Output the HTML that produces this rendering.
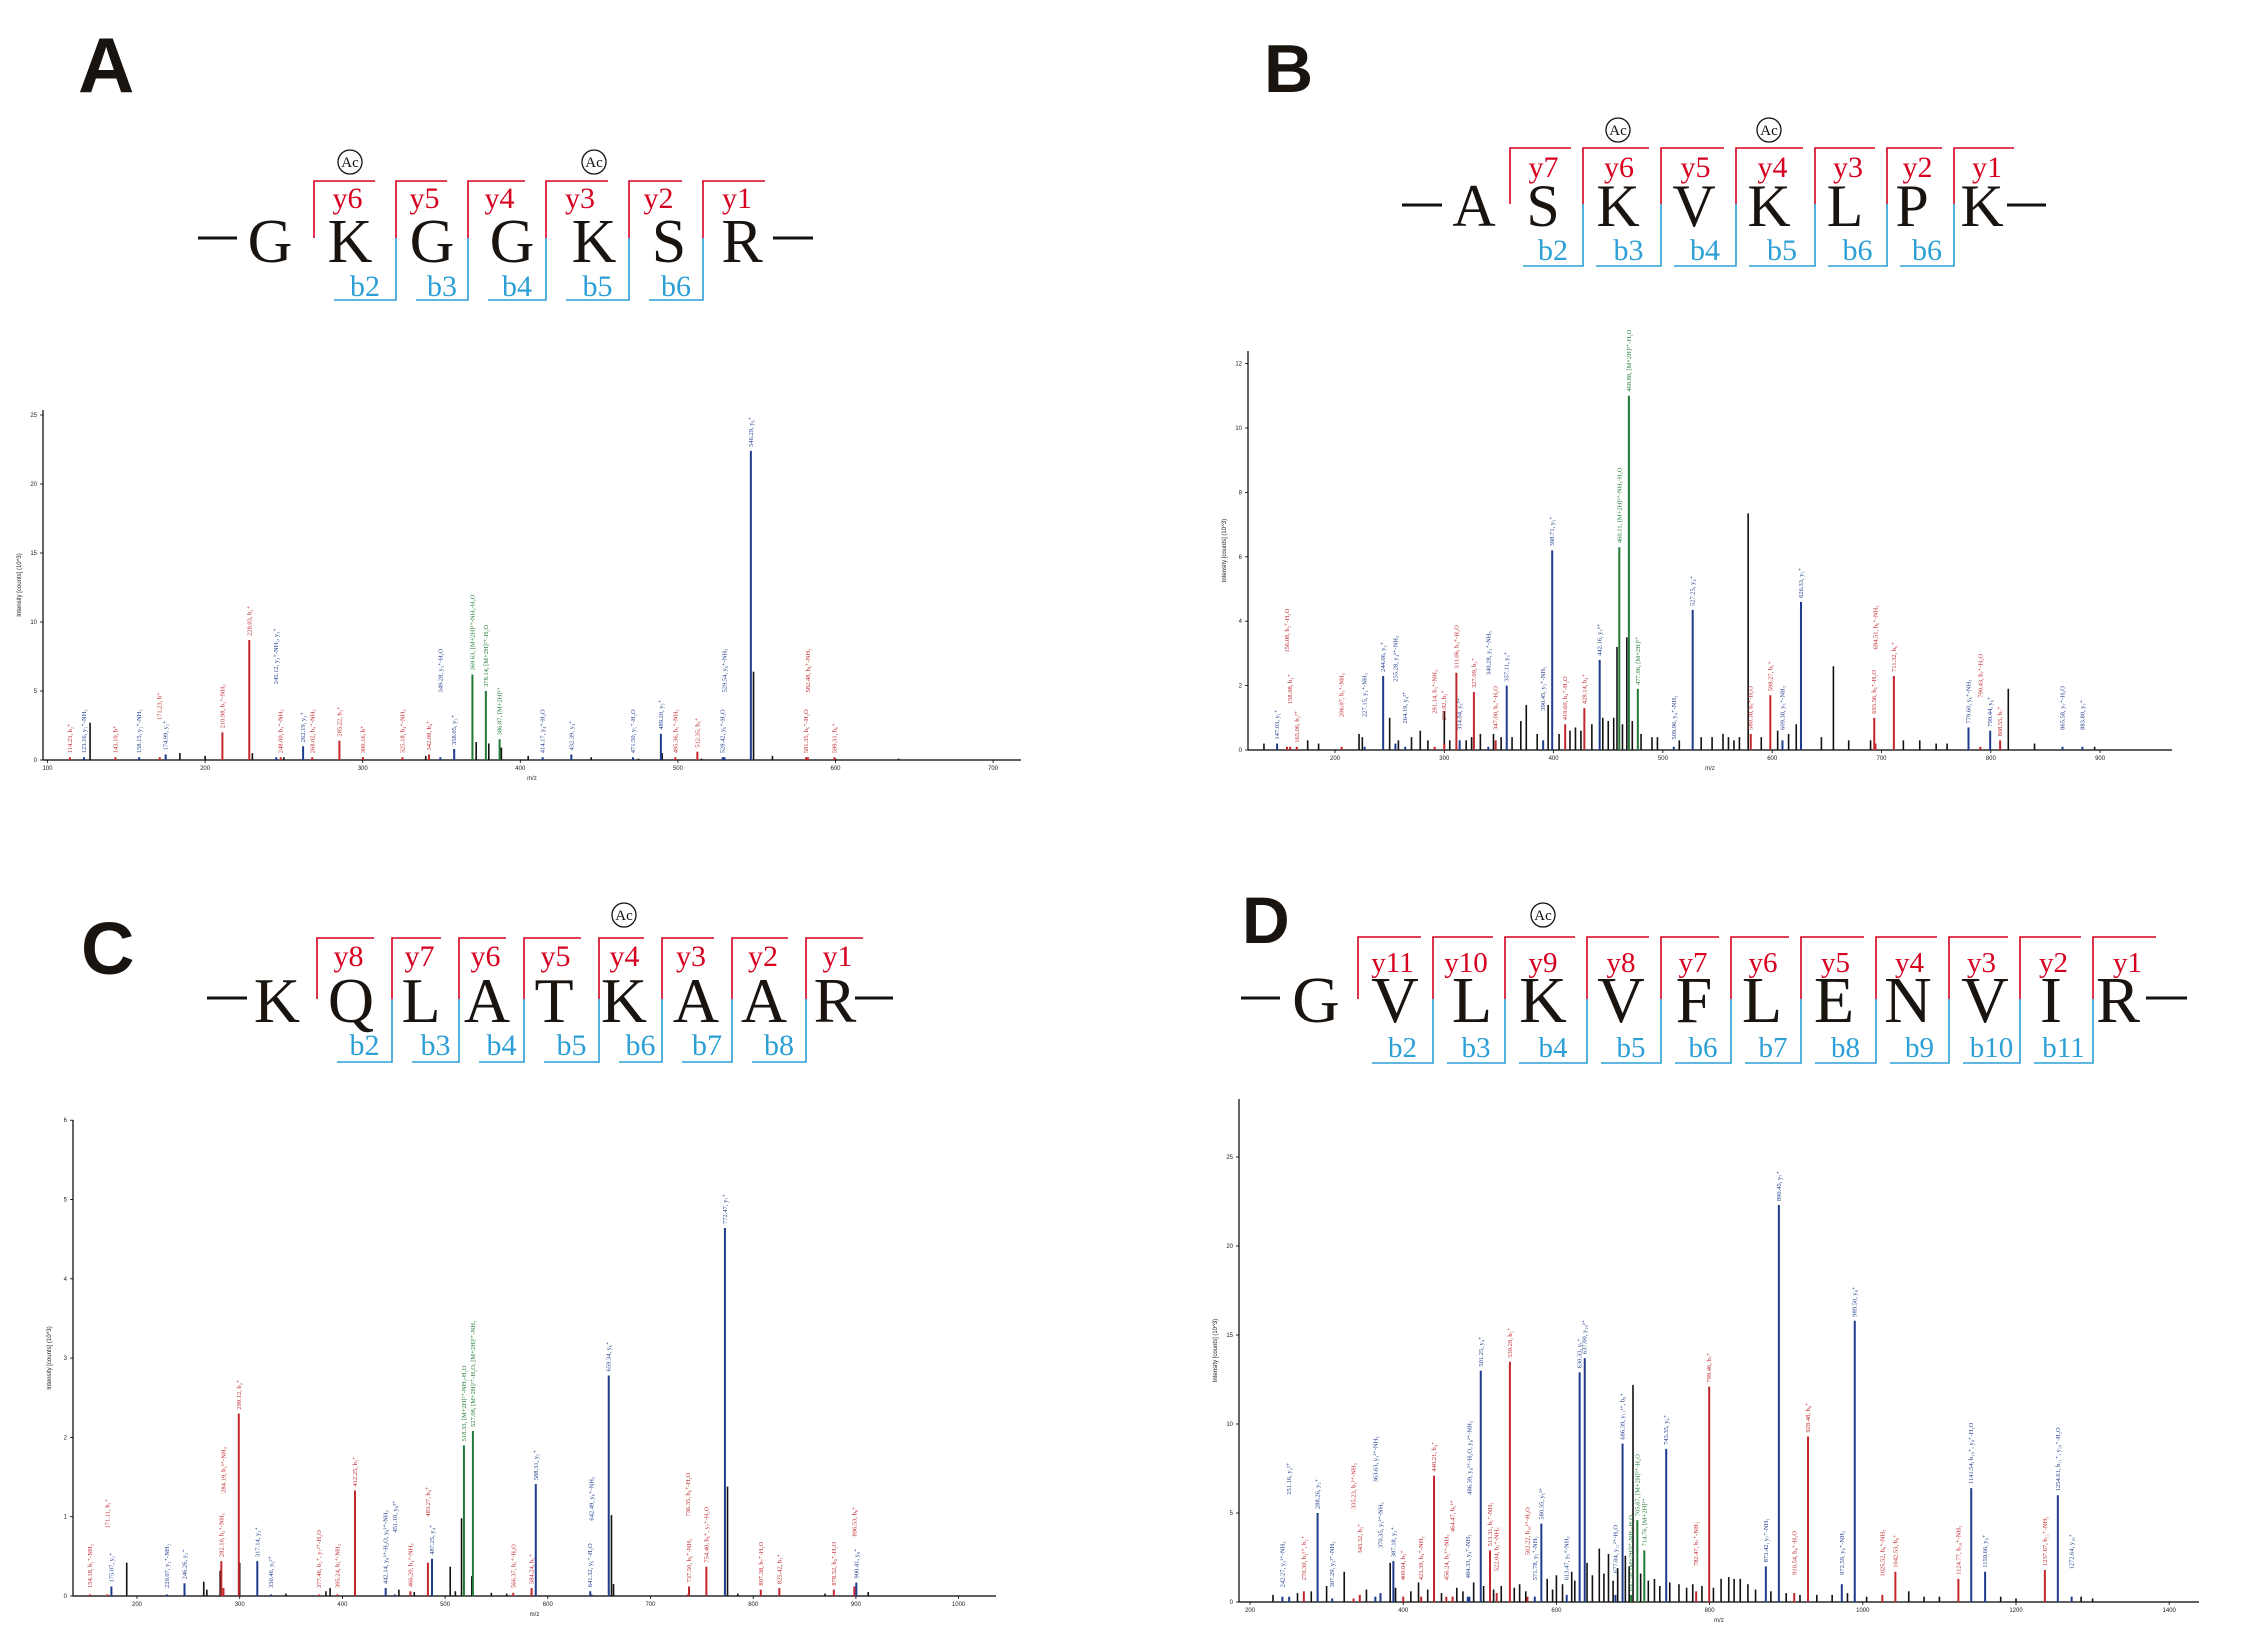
<!DOCTYPE html>
<html><head><meta charset="utf-8"><title>MS/MS spectra of acetylated peptides</title>
<style>
html,body{margin:0;padding:0;background:#fff;}
svg{display:block;}
text{font-family:"Liberation Serif",serif;}
.pl{font-family:"Liberation Sans",sans-serif;font-weight:bold;}
.tick{font-family:"Liberation Sans",sans-serif;font-size:6px;fill:#222;}
</style></head>
<body>
<svg id="fig" xmlns="http://www.w3.org/2000/svg" width="2244" height="1625" viewBox="0 0 2244 1625"></svg>
<script>
// ---------- DATA (per panel) ----------
// Panel A: GKGGKSR
const aMz    = [114.23,123.16,143.10,158.15,171.23,174.99,210.98,228.03,245.12,248.00,262.19,268.02,285.22,300.16,325.18,342.08,349.28,358.05,369.63,378.14,386.87,414.17,432.39,471.50,489.20,498.36,512.35,528.42,529.54,546.29,581.35,582.48,599.31];
const aInt   = [0.2,0.2,0.2,0.2,0.2,0.4,2.0,8.7,0.2,0.2,1.0,0.2,1.4,0.2,0.2,0.4,0.2,0.8,6.2,5.0,1.5,0.2,0.4,0.2,1.9,0.2,0.6,0.2,0.2,22.4,0.2,0.2,0.2];
const aType  = ["b","y","b","y","b","y","b","b","y","b","y","b","b","b","b","b","y","y","m","m","m","y","y","y","y","b","b","y","y","y","b","b","b"];
const aLab   = ["114.23, b₂⁺","123.16, y₁⁺-NH₃","143.10, b⁺","158.15, y₁⁺-NH₃","171.23, b⁺","174.99, y₁⁺","210.98, b₂⁺-NH₃","228.03, b₂⁺","245.12, y₂⁺-NH₃, y₂⁺","248.00, b₃⁺-NH₃","262.19, y₂⁺","268.02, b₃⁺-NH₃","285.22, b₃⁺","300.16, b⁺","325.18, b₄⁺-NH₃","342.08, b₄⁺","349.28, y₃⁺-H₂O","358.05, y₃⁺","369.63, [M+2H]²⁺-NH₃-H₂O","378.14, [M+2H]²⁺-H₂O","386.87, [M+2H]²⁺","414.17, y₄⁺-H₂O","432.39, y₄⁺","471.50, y₅⁺-H₂O","489.20, y₅⁺","495.36, b₅⁺-NH₃","512.35, b₅⁺","528.42, y₆⁺-H₂O","529.54, y₆⁺-NH₃","546.29, y₆⁺","581.35, b₆⁺-H₂O","582.48, b₆⁺-NH₃","599.31, b₆⁺"];
const aLabAt = [0,0,0,0,2.6,0,0,0,5.2,0,0,0,0,0,0,0,4.6,0,0,0,0,0,0,0,0,0,0,0,4.6,0,0,4.6,0];
const aNoiseMz  = [127,184,200,230,250,300,340,372,380,388,405,445,475,490,515,548,560,600,640];
const aNoiseInt = [2.7,0.5,0.3,0.5,0.2,0.2,0.3,1.3,1.2,0.9,0.3,0.2,0.1,0.5,0.1,6.4,0.3,0.1,0.1];
const aXTicks = [100,200,300,400,500,600,700];
const aYTicks = [0,5,10,15,20,25];

// Panel B: ASKVKLPK
const bMz    = [147.03,156.08,158.98,165.06,206.07,227.15,244.06,255.28,264.19,291.14,299.92,311.06,314.04,327.09,340.28,347.00,357.11,390.45,398.71,410.60,428.14,442.16,460.11,468.88,477.06,509.96,527.25,580.38,598.27,609.38,626.33,693.36,694.51,711.32,779.60,790.43,799.44,808.55,865.58,883.80];
const bInt   = [0.2,0.1,0.1,0.1,0.1,0.1,2.3,0.2,0.1,0.1,0.2,2.4,0.3,1.8,0.1,0.3,2.0,0.3,6.2,0.8,1.3,2.8,6.3,11.0,1.9,0.1,4.35,0.5,1.7,0.3,4.6,1.0,0.2,2.3,0.7,0.1,0.6,0.3,0.1,0.1];
const bType  = ["y","b","b","b","b","y","y","y","y","b","b","b","y","b","y","b","y","y","y","b","b","y","m","m","m","y","y","b","b","y","y","b","b","b","y","b","y","b","y","y"];
const bLab   = ["147.03, y₁⁺","156.08, b₂⁺-H₂O","158.98, b₂⁺","165.06, b₂²⁺","206.07, b₃⁺-NH₃","227.15, y₂⁺-NH₃","244.06, y₂⁺","255.28, y₄²⁺-NH₃","264.19, y₄²⁺","291.14, b₃⁺-NH₃","299.92, b₃⁺","311.06, b₃⁺-H₂O","314.04, y₅²⁺","327.09, b₃⁺","340.28, y₃⁺-NH₃","347.00, b₃⁺-H₂O","357.11, y₃⁺","390.45, y₃⁺-NH₃","398.71, y₃⁺","410.60, b₄⁺-H₂O","428.14, b₄⁺","442.16, y₇²⁺","460.11, [M+2H]²⁺-NH₃-H₂O","468.88, [M+2H]²⁺-H₂O","477.06, [M+2H]²⁺","509.96, y₄⁺-NH₃","527.25, y₄⁺","580.38, b₅⁺-H₂O","598.27, b₅⁺","609.38, y₅⁺-NH₃","626.33, y₅⁺","693.36, b₆⁺-H₂O","694.51, b₆⁺-NH₃","711.32, b₆⁺","779.60, y₆⁺-NH₃","790.43, b₇⁺-H₂O","799.44, y₆⁺","808.55, b₇⁺","865.58, y₇⁺-H₂O","883.80, y₇⁺"];
const bLabAt = [0,2.9,1.3,0,0.9,0.9,0,2.0,0.7,1.0,0.8,0,0.5,0,2.2,0.5,0,1.1,0,0.6,0,0,0,0,0,0.2,0,0.5,0,0.5,0,0,3.0,0,0,1.5,0,0,0.5,0.5];
const bNoiseMz  = [135,175,185,222,225,250,258,270,278,285,300,305,320,325,333,345,352,362,370,375,385,395,405,415,420,425,435,445,450,455,458,463,467,472,480,490,495,515,535,545,555,560,565,570,578,590,605,615,622,645,656,670,690,720,735,750,760,816,840,895];
const bNoiseInt = [0.2,0.3,0.2,0.5,0.4,1.0,0.3,0.4,0.6,0.3,1.2,0.3,0.3,0.4,0.5,0.5,0.4,0.4,0.9,1.4,0.5,1.4,0.5,0.6,0.7,0.6,0.8,1.0,0.9,1.0,3.2,0.8,3.5,0.9,0.5,0.4,0.4,0.3,0.4,0.4,0.5,0.4,0.3,0.4,7.35,0.4,0.6,0.5,0.8,0.4,2.6,0.3,0.3,0.3,0.3,0.2,0.2,1.9,0.2,0.1];
const bXTicks = [200,300,400,500,600,700,800,900];
const bYTicks = [0,2,4,6,8,10,12];

// Panel C: KQLATKAAR
const cMz    = [154.18,171.11,175.07,229.07,246.26,282.10,284.19,299.12,317.14,330.46,377.46,395.24,412.25,442.14,451.10,466.20,483.27,487.25,518.33,527.08,566.37,584.24,588.31,641.32,642.49,659.34,736.35,737.50,754.40,772.47,807.38,825.42,878.52,898.53,900.41];
const cInt   = [0.02,0.02,0.12,0.02,0.16,0.44,0.1,2.3,0.44,0.02,0.02,0.02,1.33,0.1,0.02,0.06,0.42,0.47,1.9,2.08,0.04,0.1,1.41,0.06,0.02,2.78,0.02,0.12,0.37,4.64,0.08,0.1,0.08,0.12,0.17];
const cType  = ["b","b","y","y","y","b","b","b","y","y","b","b","b","y","y","b","b","y","m","m","b","b","y","y","y","y","b","b","b","y","b","b","b","b","y"];
const cLab   = ["154.18, b₁⁺-NH₃","171.11, b₁⁺","175.07, y₁⁺","229.07, y₂⁺-NH₃","246.26, y₂⁺","282.10, b₂⁺-NH₃","284.19, b₂²⁺-NH₃","299.12, b₂⁺","317.14, y₃⁺","330.46, y₆²⁺","377.46, b₃⁺, y₇²⁺-H₂O","395.24, b₃⁺-NH₃","412.25, b₃⁺","442.14, y₈²⁺-H₂O, y₈²⁺-NH₃","451.10, y₈²⁺","466.20, b₄⁺-NH₃","483.27, b₄⁺","487.25, y₄⁺","518.33, [M+2H]²⁺-NH₃-H₂O","527.08, [M+2H]²⁺-H₂O, [M+2H]²⁺-NH₃","566.37, b₅⁺-H₂O","584.24, b₅⁺","588.31, y₅⁺","641.32, y₆⁺-H₂O","642.49, y₆⁺-NH₃","659.34, y₆⁺","736.35, b₆⁺-H₂O","737.50, b₆⁺-NH₃","754.40, b₆⁺, y₇⁺-H₂O","772.47, y₇⁺","807.38, b₇⁺-H₂O","825.42, b₇⁺","878.52, b₈⁺-H₂O","896.53, b₈⁺","900.41, y₈⁺"];
const cLabAt = [0.05,0.8,0,0.05,0,0,1.25,0,0,0.05,0.05,0.05,0,0.1,0.75,0.05,0.95,0,0,0,0.05,0.05,0,0.05,0.9,0,0.95,0.05,0,0,0.05,0.05,0.05,0.7,0];
const cNoiseMz  = [190,265,268,281,300,345,384,388,455,470,505,510,516,526,545,560,584,662,664,775,785,870,912];
const cNoiseInt = [0.42,0.18,0.08,0.32,0.42,0.03,0.06,0.1,0.08,0.05,0.37,0.06,0.98,0.25,0.04,0.03,0.04,1.02,0.15,1.38,0.03,0.03,0.05];
const cXTicks = [200,300,400,500,600,700,800,900,1000];
const cYTicks = [0,1,2,3,4,5,6];

// Panel D: GVLKVFLENVIR
const dMz    = [242.27,251.16,270.30,288.26,307.29,335.23,343.32,363.63,370.35,387.18,400.04,423.39,440.21,456.24,464.47,484.33,486.39,501.25,513.31,522.04,539.29,562.22,571.78,580.35,613.47,630.33,637.00,677.04,686.39,697.58,705.67,714.76,743.35,782.47,799.46,873.42,890.45,910.54,928.48,972.59,989.50,1025.52,1042.53,1124.77,1141.54,1159.66,1237.67,1254.61,1272.64];
const dInt   = [0.3,0.3,0.6,5.0,0.2,0.2,0.4,0.3,0.5,2.3,0.3,0.3,7.1,0.3,0.3,0.3,0.3,13.0,2.9,0.5,13.5,0.3,0.3,4.4,0.4,12.9,13.7,0.4,8.9,0.4,4.6,2.9,8.6,0.6,12.1,2.0,22.3,0.5,9.3,1.0,15.8,0.4,1.7,1.3,6.4,1.7,1.8,6.0,0.3];
const dType  = ["y","y","b","y","y","b","b","y","y","y","b","b","b","b","b","y","y","y","b","b","b","b","y","y","y","y","y","y","y","m","m","m","y","b","b","y","y","b","b","y","y","b","b","b","y","y","b","y","y"];
const dLab   = ["242.27, y₂²⁺-NH₃","251.16, y₂²⁺","270.30, b₂²⁺, b₂⁺","288.26, y₂⁺","307.29, y₃²⁺-NH₃","335.23, b₃²⁺-NH₃","343.32, b₃⁺","363.63, y₃²⁺-NH₃","370.35, y₃²⁺-NH₃","387.18, y₃⁺","400.04, b₃⁺","423.39, b₄⁺-NH₃","440.21, b₄⁺","456.24, b₅²⁺-NH₃","464.47, b₅²⁺","484.33, y₄⁺-NH₃","486.39, y₈²⁺-H₂O, y₈²⁺-NH₃","501.25, y₄⁺","513.31, b₅⁺-NH₃","522.04, b₅⁺-NH₃","539.29, b₅⁺","562.22, b₁₀²⁺-H₂O","571.78, y₅⁺-NH₃","580.35, y₅²⁺","613.47, y₅⁺-NH₃","630.33, y₅⁺","637.00, y₁₀²⁺","677.04, y₁₁²⁺-H₂O","686.39, y₁₁²⁺, b₆⁺","697.58, [M+2H]²⁺-NH₃-H₂O","705.67, [M+2H]²⁺-H₂O","714.76, [M+2H]²⁺","743.35, y₆⁺","782.47, b₇⁺-NH₃","799.46, b₇⁺","873.42, y₇⁺-NH₃","890.45, y₇⁺","910.54, b₈⁺-H₂O","928.48, b₈⁺","972.59, y₈⁺-NH₃","989.50, y₈⁺","1025.52, b₉⁺-NH₃","1042.53, b₉⁺","1124.77, b₁₀⁺-NH₃","1141.54, b₁₀⁺, y₉⁺-H₂O","1159.66, y₉⁺","1237.67, b₁₁⁺-NH₃","1254.61, b₁₁⁺, y₁₀⁺-H₂O","1272.64, y₁₀⁺"];
const dLabAt = [0.6,5.8,1.0,0,0.6,5.0,2.5,6.5,2.8,0,1.0,1.0,0,1.0,3.7,1.1,5.8,0,0,1.5,0,2.4,1.0,0,1.0,0,0,1.4,0,0,0,0,0,1.8,0,0,0,1.3,0,1.3,0,1.2,0,1.3,0,1.7,1.8,0,1.6];
const dNoiseMz  = [230,262,280,300,323,352,383,390,410,420,432,450,470,478,492,505,518,528,545,552,560,588,595,600,608,620,624,640,647,656,662,668,674,680,690,695,700,710,720,728,735,748,760,770,778,790,805,815,825,832,840,850,860,880,900,918,940,960,980,1005,1060,1080,1100,1180,1200,1285,1300];
const dNoiseInt = [0.4,0.5,0.6,0.9,1.7,0.7,2.2,0.8,0.6,1.1,0.7,0.5,0.8,0.6,1.1,0.9,0.7,0.9,0.8,1.0,0.6,1.3,0.7,1.5,1.0,1.7,1.2,2.2,1.5,3.0,1.6,2.7,1.2,1.9,2.6,2.0,12.2,1.6,1.2,1.3,0.9,1.1,1.0,0.8,1.0,0.9,0.8,1.3,1.4,1.3,1.3,1.0,0.7,0.6,0.5,0.4,0.4,0.4,0.5,0.3,0.6,0.3,0.3,0.3,0.2,0.3,0.2];
const dXTicks = [200,400,600,800,1000,1200,1400];
const dYTicks = [0,5,10,15,20,25];

// ---------- RENDERING ----------
const NS='http://www.w3.org/2000/svg';
const svg=document.getElementById('fig');
function el(tag,attrs,parent,txt){const e=document.createElementNS(NS,tag);for(const k in attrs)e.setAttribute(k,attrs[k]);if(txt!==undefined)e.textContent=txt;(parent||svg).appendChild(e);return e;}
const COL={b:'#c1272d',y:'#1f3c8c',m:'#1f7a35'};
const RED='#d7001f',BLUE='#2b9fd6';

function drawChart(id,cfg,mz,inten,type,lab,labAt,nMz,nInt,xt,yt){
  const g=el('g',{},svg);
  
  
  const X=m=>cfg.x0+(m-cfg.m0)*cfg.k;
  const Y=v=>cfg.base-v*cfg.u;
  // axes
  const ya=el('line',{x1:cfg.ax0,y1:cfg.top,x2:cfg.ax0,y2:cfg.base,stroke:'#000','stroke-width':1.2},g);
  
  const xa=el('line',{x1:cfg.ax0,y1:cfg.base,x2:cfg.ax1,y2:cfg.base,stroke:'#000','stroke-width':1.2},g);
  
  xt.forEach(t=>{const x=X(t);if(x<cfg.ax0-20)return;
    el('line',{x1:x,y1:cfg.base,x2:x,y2:cfg.base+3,stroke:'#000','stroke-width':0.8},g);
    const tl=el('text',{x:x,y:cfg.base+10,'text-anchor':'middle',class:'tick'},g,String(t));
    });
  yt.forEach(t=>{const y=Y(t);
    el('line',{x1:cfg.ax0-3,y1:y,x2:cfg.ax0,y2:y,stroke:'#000','stroke-width':0.8},g);
    const tl=el('text',{x:cfg.ax0-6,y:y+2,'text-anchor':'end',class:'tick'},g,String(t));
    });
  const xtl=el('text',{x:(cfg.ax0+cfg.ax1)/2,y:cfg.base+20,'text-anchor':'middle',class:'tick'},g,'m/z');
  
  const ym=(cfg.top+cfg.base)/2;
  const ytl=el('text',{x:cfg.ax0-22,y:ym,'text-anchor':'middle',class:'tick',transform:`rotate(-90 ${cfg.ax0-22} ${ym})`},g,'Intensity [counts] (10^3)');
  
  // noise baseline peaks
  nMz.forEach((m,i)=>{const p=el('line',{x1:X(m),y1:cfg.base,x2:X(m),y2:Y(nInt[i]),stroke:'#111','stroke-width':1.6},g);
    });
  // assigned peaks
  mz.forEach((m,i)=>{const c=COL[type[i]];const x=X(m),y=Y(inten[i]);
    const p=el('line',{x1:x,y1:cfg.base,x2:x,y2:y,stroke:c,'stroke-width':2},g);
    
    const lb=Math.min(y,Y(Math.max(labAt[i],0)))-4;
    const ly=Math.min(lb,cfg.base-5);
    const t=el('text',{x:x+2,y:ly,fill:c,'font-size':cfg.fs,transform:`rotate(-90 ${x+2} ${ly})`},g,lab[i]);
    });
}

function drawSeq(id,s){
  const g=el('g',{},svg);
  
  
  const pl=el('text',{x:s.plx,y:s.ply,class:'pl','font-size':s.plfs,fill:'#1a1410'},g,s.panel);
  
  s.dash.forEach(d=>{const l=el('line',{x1:d[0],y1:s.dashY,x2:d[1],y2:s.dashY,stroke:'#111','stroke-width':3},g);
    });
  s.letters.forEach((L,i)=>{const t=el('text',{x:s.lx[i],y:s.base,'text-anchor':'middle','font-size':s.fs,fill:'#1a1410'},g,L);
    });
  const n=s.rv.length;
  for(let j=0;j<n;j++){
    const x=s.rv[j];const end=(j<n-1?s.rv[j+1]:s.rend+s.gap)-s.gap;
    el('polyline',{points:`${x},${s.mid} ${x},${s.top} ${end},${s.top}`,fill:'none',stroke:RED,'stroke-width':1.6},g);
    const yl=el('text',{x:(x+end)/2+3,y:s.ry,'text-anchor':'middle','font-size':s.lfs,fill:RED},g,s.ylab[j]);
    
    if(j>0){const st=s.rv[j-1]+s.boff;
      el('polyline',{points:`${x},${s.mid} ${x},${s.bot} ${st},${s.bot}`,fill:'none',stroke:BLUE,'stroke-width':1.6},g);
      const bl=el('text',{x:(st+x)/2,y:s.by,'text-anchor':'middle','font-size':s.lfs,fill:BLUE},g,s.blab[j-1]);
      }
  }
  s.ac.forEach(i=>{const cx=s.lx[i];
    const c=el('circle',{cx:cx,cy:s.acY,r:s.acR,fill:'none',stroke:'#111','stroke-width':1.3},g);
    
    el('text',{x:cx,y:s.acY+5,'text-anchor':'middle','font-size':15,fill:'#111'},g,'Ac');});
}

// layouts
drawSeq('a',{panel:'A',plx:78,ply:92,plfs:78,letters:['G','K','G','G','K','S','R'],lx:[270,350,432,512,594,669,742],base:262,fs:62,
  rv:[314,396,468,546,629,703],rend:765,gap:21,boff:20,top:181,mid:238,bot:300,ry:208,by:296,lfs:30,
  ylab:['y6','y5','y4','y3','y2','y1'],blab:['b2','b3','b4','b5','b6'],ac:[1,4],acY:162,acR:12,dash:[[198,237],[773,813]],dashY:238});
drawSeq('b',{panel:'B',plx:1264,ply:92,plfs:68,letters:['A','S','K','V','K','L','P','K'],lx:[1474,1543,1618,1694,1769,1845,1912,1982],base:226,fs:60,
  rv:[1510,1583,1661,1736,1815,1887,1954],rend:2014,gap:12,boff:13,top:148,mid:204,bot:266,ry:177,by:260,lfs:30,
  ylab:['y7','y6','y5','y4','y3','y2','y1'],blab:['b2','b3','b4','b5','b6','b6'],ac:[2,4],acY:130,acR:12,dash:[[1402,1442],[2007,2046]],dashY:205});
drawSeq('c',{panel:'C',plx:81,ply:974,plfs:74,letters:['K','Q','L','A','T','K','A','A','R'],lx:[277,351,421,487,554,624,696,764,835],base:1022,fs:64,
  rv:[317,392,459,524,599,662,732,806],rend:863,gap:18,boff:20,top:938,mid:999,bot:1062,ry:966,by:1055,lfs:30,
  ylab:['y8','y7','y6','y5','y4','y3','y2','y1'],blab:['b2','b3','b4','b5','b6','b7','b8'],ac:[5],acY:915,acR:12,dash:[[207,247],[855,893]],dashY:998});
drawSeq('d',{panel:'D',plx:1242,ply:943,plfs:66,letters:['G','V','L','K','V','F','L','E','N','V','I','R'],lx:[1316,1395,1472,1543,1621,1694,1762,1834,1908,1985,2051,2118],base:1022,fs:66,
  rv:[1358,1433,1505,1587,1661,1731,1801,1876,1949,2020,2093],rend:2156,gap:12,boff:14,top:937,mid:999,bot:1063,ry:972,by:1057,lfs:29,
  ylab:['y11','y10','y9','y8','y7','y6','y5','y4','y3','y2','y1'],blab:['b2','b3','b4','b5','b6','b7','b8','b9','b10','b11'],ac:[3],acY:915,acR:12,dash:[[1241,1280],[2146,2187]],dashY:998});

drawChart('a',{x0:47.5,m0:100,k:1.576,ax0:43,ax1:1021,base:760,u:13.8,top:410,fs:6.5},aMz,aInt,aType,aLab,aLabAt,aNoiseMz,aNoiseInt,aXTicks,aYTicks);
drawChart('b',{x0:1335,m0:200,k:1.093,ax0:1248,ax1:2172,base:750,u:32.2,top:351,fs:6.5},bMz,bInt,bType,bLab,bLabAt,bNoiseMz,bNoiseInt,bXTicks,bYTicks);
drawChart('c',{x0:137,m0:200,k:1.027,ax0:73,ax1:996,base:1596,u:79.3,top:1120,fs:6.5},cMz,cInt,cType,cLab,cLabAt,cNoiseMz,cNoiseInt,cXTicks,cYTicks);
drawChart('d',{x0:1250,m0:200,k:0.766,ax0:1239,ax1:2199,base:1602,u:17.8,top:1099,fs:6.5},dMz,dInt,dType,dLab,dLabAt,dNoiseMz,dNoiseInt,dXTicks,dYTicks);
</script>
</body></html>
